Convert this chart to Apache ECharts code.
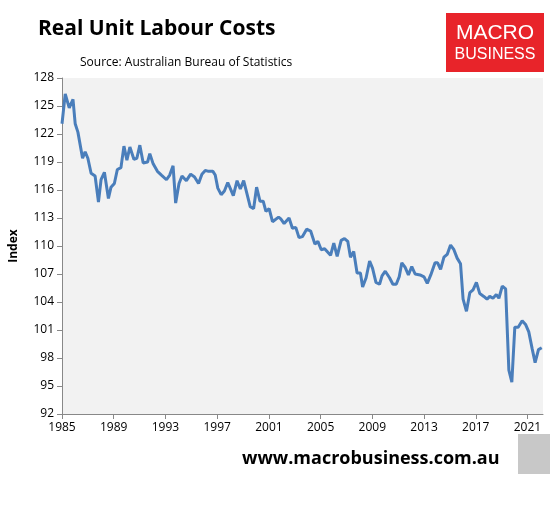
<!DOCTYPE html><html><head><meta charset="utf-8"><script src="https://cdn.jsdelivr.net/npm/echarts@6/dist/echarts.min.js"></script>
<style>html,body{margin:0;padding:0;background:#fff}#c{width:559px;height:509px}</style></head><body><div id="c"></div><script>
const years=[1985.0,1985.25,1985.56,1985.85,1986.02,1986.23,1986.59,1986.79,1987.0,1987.25,1987.56,1987.82,1988.02,1988.28,1988.59,1988.79,1989.05,1989.28,1989.56,1989.79,1990.02,1990.25,1990.56,1990.79,1991.02,1991.28,1991.62,1991.79,1992.05,1992.38,1992.69,1992.82,1993.08,1993.33,1993.59,1993.79,1994.05,1994.28,1994.62,1994.95,1995.25,1995.56,1995.82,1996.08,1996.33,1996.67,1996.85,1997.05,1997.31,1997.56,1997.82,1998.25,1998.54,1998.79,1999.05,1999.56,1999.82,2000.05,2000.31,2000.56,2000.77,2001.02,2001.28,2001.75,
2001.92,2002.18,2002.56,2002.82,2003.08,2003.33,2003.59,2003.92,2004.23,2004.56,2004.79,2005.05,2005.31,2005.77,2006.02,2006.28,2006.59,2006.85,2007.1,2007.31,2007.56,2007.82,2008.08,2008.25,2008.52,2008.79,2009.02,2009.28,2009.56,2009.75,2010.0,2010.33,2010.59,2010.85,2011.08,2011.28,2011.54,2011.79,2012.05,2012.31,2012.69,2013.0,2013.25,2013.52,2013.85,2014.05,2014.28,2014.54,2014.79,2015.05,2015.31,2015.56,2015.82,2016.02,2016.28,2016.54,2016.79,2017.05,2017.31,2017.62,2017.87,2018.08,2018.33,2018.59,2018.79,2019.05,2019.31,2019.56,2019.79,2020.02,2020.28,2020.59,2020.85,2021.1,2021.36,2021.59,2021.85,2022.1];
const values=[123.1,126.3,124.8,125.7,123.1,122.2,119.4,120.1,119.4,117.8,117.5,114.7,117.1,117.9,115.1,116.3,116.7,118.2,118.4,120.7,119.2,120.6,119.3,119.4,120.8,118.9,119.0,119.9,118.8,118.0,117.6,117.8,117.1,117.6,118.6,114.6,116.7,117.5,117.0,117.7,117.4,116.7,117.7,118.1,118.0,118.0,117.6,116.2,115.5,115.9,116.8,115.4,117.0,116.1,117.0,114.2,114.0,116.3,114.8,114.8,113.7,114.0,112.6,113.1,
112.9,112.4,113.0,111.9,112.0,110.9,111.0,111.8,111.6,110.2,110.5,109.6,109.7,109.0,110.3,108.9,110.6,110.8,110.5,108.8,109.4,107.1,107.1,105.6,106.6,108.4,107.6,106.1,105.9,106.8,107.3,106.6,105.9,105.9,106.7,108.2,107.7,106.9,107.8,107.0,106.9,106.7,106.0,106.9,108.2,108.2,107.5,108.8,109.1,110.1,109.6,108.7,108.1,104.3,103.0,105.0,105.3,106.1,104.9,104.6,104.3,104.6,104.4,104.8,104.4,105.7,105.4,96.7,95.4,101.3,101.3,102.0,101.6,100.8,99.0,97.5,98.9,99.1];
const yTicks=[92,95,98,101,104,107,110,113,116,119,122,125,128];
const xTicks=[1985,1989,1993,1997,2001,2005,2009,2013,2017,2021];
const ch=echarts.init(document.getElementById('c'));
const F='"Open Sans", "Liberation Sans", sans-serif';
ch.setOption({
 animation:false,
 grid:{left:60,right:16,top:78,bottom:95,backgroundColor:'#f2f2f2',show:true,borderWidth:0},
 title:[{text:'Real Unit Labour Costs',left:33,top:14,textStyle:{fontFamily:F,fontSize:21,fontWeight:'bold',color:'#000'}},
  {text:'Source: Australian Bureau of Statistics',left:75,top:52,textStyle:{fontFamily:F,fontSize:12,fontWeight:'normal',color:'#000'}},
  {text:'www.macrobusiness.com.au',left:237,top:445,textStyle:{fontFamily:F,fontSize:18,fontWeight:'bold',color:'#000'}}],
 graphic:[{type:'rect',shape:{x:446,y:13,width:98,height:59},style:{fill:'#e8242a'}},
  {type:'text',style:{x:495,y:33,text:'MACRO',fill:'#fff',font:'21px "Liberation Sans", sans-serif',align:'center',verticalAlign:'middle'}},
  {type:'text',style:{x:495,y:55,text:'BUSINESS',fill:'#fff',font:'16px "Liberation Sans", sans-serif',align:'center',verticalAlign:'middle'}},
  {type:'rect',shape:{x:518,y:434,width:32,height:40},style:{fill:'#c8c8c8'}}],
 xAxis:{type:'value',min:1985,max:2022.2,interval:4,
  axisLine:{lineStyle:{color:'#888'}},axisTick:{lineStyle:{color:'#888'},length:5},splitLine:{show:false},
  axisLabel:{color:'#000',fontFamily:F,fontSize:12,margin:8,showMaxLabel:false,formatter:v=>xTicks.includes(v)?String(v):''}},
 yAxis:{type:'value',min:92,max:128,interval:3,name:'Index',nameLocation:'middle',nameGap:42,
  nameTextStyle:{fontFamily:F,fontSize:12,fontWeight:'bold',color:'#000'},
  axisLine:{show:true,lineStyle:{color:'#888'}},axisTick:{show:true,lineStyle:{color:'#888'},length:5},splitLine:{show:false},
  axisLabel:{color:'#000',fontFamily:F,fontSize:12,formatter:v=>yTicks.includes(v)?String(v):''}},
 series:[{type:'line',data:years.map((y,i)=>[y,values[i]]),showSymbol:false,lineStyle:{color:'#4a7ebb',width:3}}]
});
</script></body></html>
